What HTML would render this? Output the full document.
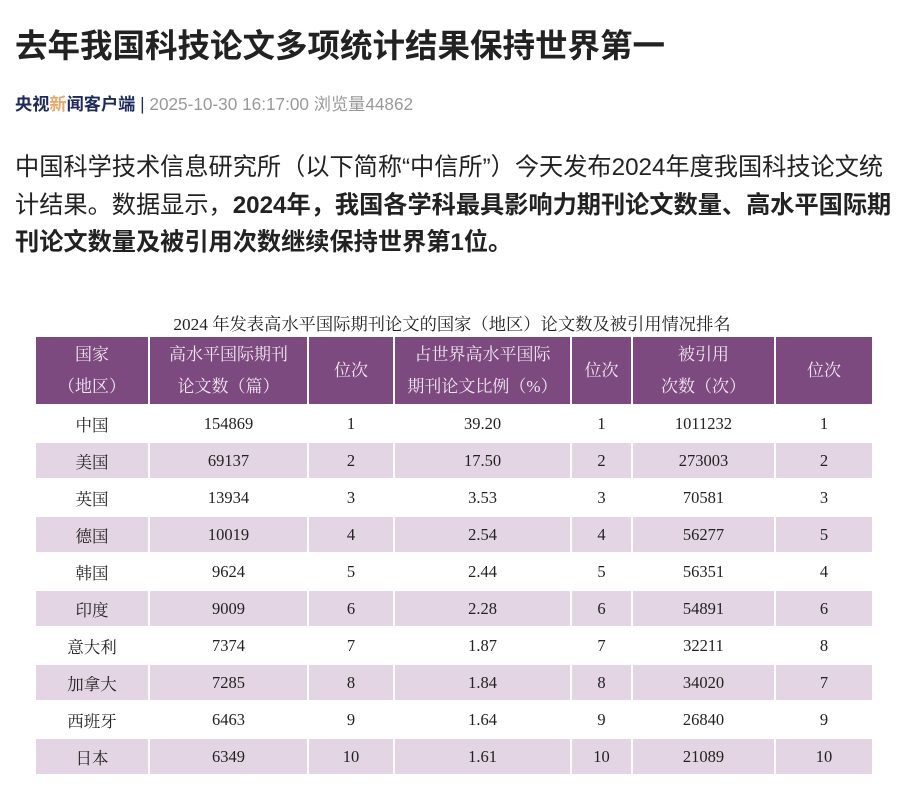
<!DOCTYPE html>
<html><head><meta charset="utf-8"><style>
body{margin:0;width:904px;height:798px;background:#fff;position:relative;overflow:hidden;font-family:"Liberation Sans","Noto Sans CJK SC",sans-serif}
.t{position:absolute;left:15px;top:20px;font-size:32.5px;font-weight:bold;color:#222;white-space:nowrap}
.m{position:absolute;left:15px;top:90px;font-size:17.2px;color:#999;white-space:nowrap}
.m b{color:#1d2a5a}
.p{position:absolute;left:15px;top:149px;width:900px;font-size:24.2px;line-height:37.5px;color:#222;white-space:nowrap}
.cap{position:absolute;left:0;width:904px;top:310px;text-align:center;font-family:"Liberation Serif","Noto Serif CJK SC",serif;font-size:17.3px;color:#222}
table{position:absolute;left:34px;top:335px;border-collapse:collapse;font-family:"Liberation Serif","Noto Serif CJK SC",serif;font-size:16.5px;color:#222}
td{text-align:center;padding:0;border:2px solid #fff;height:35px}
tr.h td{background:#7d4a80;color:#f0e6f0;height:67px;line-height:32px;font-size:17px}
tr.a td{background:#e3d5e3}
</style></head><body>
<div class="t">去年我国科技论文多项统计结果保持世界第一</div>
<div class="m"><b>央视<span style="color:#e8a86b">新</span>闻客户端</b> <span style="color:#1d2a5a">|</span> 2025-10-30 16:17:00 浏览量44862</div>
<div class="p">中国科学技术信息研究所（以下简称“中信所”）今天发布2024年度我国科技论文统<br>计结果。数据显示，<b>2024年，我国各学科最具影响力期刊论文数量、高水平国际期<br>刊论文数量及被引用次数继续保持世界第1位。</b></div>
<div class="cap">2024 年发表高水平国际期刊论文的国家（地区）论文数及被引用情况排名</div>
<table>
<colgroup><col style="width:114px"><col style="width:159px"><col style="width:86px"><col style="width:177px"><col style="width:61px"><col style="width:143px"><col style="width:98px"></colgroup>
<tr class="h"><td>国家<br>（地区）</td><td>高水平国际期刊<br>论文数（篇）</td><td>位次</td><td>占世界高水平国际<br>期刊论文比例（%）</td><td>位次</td><td>被引用<br>次数（次）</td><td>位次</td></tr>
<tr><td>中国</td><td>154869</td><td>1</td><td>39.20</td><td>1</td><td>1011232</td><td>1</td></tr>
<tr class="a"><td>美国</td><td>69137</td><td>2</td><td>17.50</td><td>2</td><td>273003</td><td>2</td></tr>
<tr><td>英国</td><td>13934</td><td>3</td><td>3.53</td><td>3</td><td>70581</td><td>3</td></tr>
<tr class="a"><td>德国</td><td>10019</td><td>4</td><td>2.54</td><td>4</td><td>56277</td><td>5</td></tr>
<tr><td>韩国</td><td>9624</td><td>5</td><td>2.44</td><td>5</td><td>56351</td><td>4</td></tr>
<tr class="a"><td>印度</td><td>9009</td><td>6</td><td>2.28</td><td>6</td><td>54891</td><td>6</td></tr>
<tr><td>意大利</td><td>7374</td><td>7</td><td>1.87</td><td>7</td><td>32211</td><td>8</td></tr>
<tr class="a"><td>加拿大</td><td>7285</td><td>8</td><td>1.84</td><td>8</td><td>34020</td><td>7</td></tr>
<tr><td>西班牙</td><td>6463</td><td>9</td><td>1.64</td><td>9</td><td>26840</td><td>9</td></tr>
<tr class="a"><td>日本</td><td>6349</td><td>10</td><td>1.61</td><td>10</td><td>21089</td><td>10</td></tr>
</table>
</body></html>
